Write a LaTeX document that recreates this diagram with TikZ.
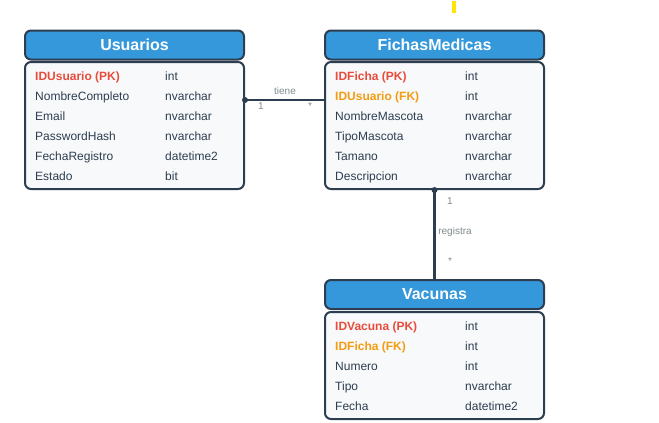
\documentclass[tikz,border=0pt]{standalone}
\usepackage{fontspec}
\setmainfont{Liberation Sans}
\definecolor{bord}{HTML}{2C3E50}
\definecolor{hblue}{HTML}{3498DB}
\definecolor{bfill}{HTML}{F8F9FA}
\definecolor{pkred}{HTML}{E74C3C}
\definecolor{fkorg}{HTML}{F39C12}
\definecolor{lblgrey}{HTML}{7F8C8D}
\definecolor{ymark}{HTML}{FFE500}
\begin{document}
\begin{tikzpicture}[x=1pt,y=-1pt,
  hdr/.style={draw=bord, line width=2pt, fill=hblue, rounded corners=6pt, minimum width=219pt, minimum height=29pt, inner sep=0pt, text=white, font=\fontsize{16}{19}\selectfont\bfseries},
  bodyb/.style={draw=bord, line width=2pt, fill=bfill, rounded corners=6pt, minimum width=219pt, inner sep=0pt},
  fld/.style={anchor=base west, inner sep=0pt, font=\fontsize{12}{14}\selectfont, text=bord},
  pk/.style={fld, text=pkred, font=\fontsize{12}{14}\selectfont\bfseries},
  fk/.style={fld, text=fkorg, font=\fontsize{12}{14}\selectfont\bfseries},
  lbl/.style={inner sep=0pt, text=lblgrey, font=\fontsize{10}{12}\selectfont},
  conn/.style={draw=bord, line width=2.2pt},
  dotc/.style={circle, fill=bord, inner sep=0pt, minimum size=6pt}
]
\useasboundingbox (0,0) rectangle (659,423);
\fill[ymark] (452,1) rectangle (456,13);

% Usuarios
\node[bodyb, minimum height=127pt] (usub) at (134.5,125.5) {};
\node[hdr] (usuh) at (134.5,45) {Usuarios};
\node[pk]  (u1n) at (35,80) {IDUsuario (PK)};
\node[fld] (u1t) at (165,80) {int};
\node[fld] (u2n) at (35,100) {NombreCompleto};
\node[fld] (u2t) at (165,100) {nvarchar};
\node[fld] (u3n) at (35,120) {Email};
\node[fld] (u3t) at (165,120) {nvarchar};
\node[fld] (u4n) at (35,140) {PasswordHash};
\node[fld] (u4t) at (165,140) {nvarchar};
\node[fld] (u5n) at (35,160) {FechaRegistro};
\node[fld] (u5t) at (165,160) {datetime2};
\node[fld] (u6n) at (35,180) {Estado};
\node[fld] (u6t) at (165,180) {bit};

% FichasMedicas
\node[bodyb, minimum height=127pt] (fmb) at (434.5,125.5) {};
\node[hdr] (fmh) at (434.5,45) {FichasMedicas};
\node[pk]  (f1n) at (335,80) {IDFicha (PK)};
\node[fld] (f1t) at (465,80) {int};
\node[fk]  (f2n) at (335,100) {IDUsuario (FK)};
\node[fld] (f2t) at (465,100) {int};
\node[fld] (f3n) at (335,120) {NombreMascota};
\node[fld] (f3t) at (465,120) {nvarchar};
\node[fld] (f4n) at (335,140) {TipoMascota};
\node[fld] (f4t) at (465,140) {nvarchar};
\node[fld] (f5n) at (335,160) {Tamano};
\node[fld] (f5t) at (465,160) {nvarchar};
\node[fld] (f6n) at (335,180) {Descripcion};
\node[fld] (f6t) at (465,180) {nvarchar};

% Vacunas
\node[bodyb, minimum height=107pt] (vab) at (434.5,365.5) {};
\node[hdr] (vah) at (434.5,294.5) {Vacunas};
\node[pk]  (v1n) at (335,330) {IDVacuna (PK)};
\node[fld] (v1t) at (465,330) {int};
\node[fk]  (v2n) at (335,350) {IDFicha (FK)};
\node[fld] (v2t) at (465,350) {int};
\node[fld] (v3n) at (335,370) {Numero};
\node[fld] (v3t) at (465,370) {int};
\node[fld] (v4n) at (335,390) {Tipo};
\node[fld] (v4t) at (465,390) {nvarchar};
\node[fld] (v5n) at (335,410) {Fecha};
\node[fld] (v5t) at (465,410) {datetime2};

% connectors
\draw[conn] ([yshift=25.5pt]usub.east) -- ([yshift=25.5pt]fmb.west);
\node[dotc] (d1) at ([yshift=25.5pt]usub.east) {};
\node[lbl] (l1) at (285,91) {tiene};
\node[lbl] (l1a) at (261,106) {1};
\node[lbl] (l1b) at (310,106) {*};

\draw[conn] (fmb.south) -- (vah.north);
\node[dotc] (d2) at (fmb.south) {};
\node[lbl] (l2a) at (450,201.5) {1};
\node[lbl] (l2) at (455,231.5) {registra};
\node[lbl] (l2b) at (450,261) {*};
\end{tikzpicture}
\end{document}
